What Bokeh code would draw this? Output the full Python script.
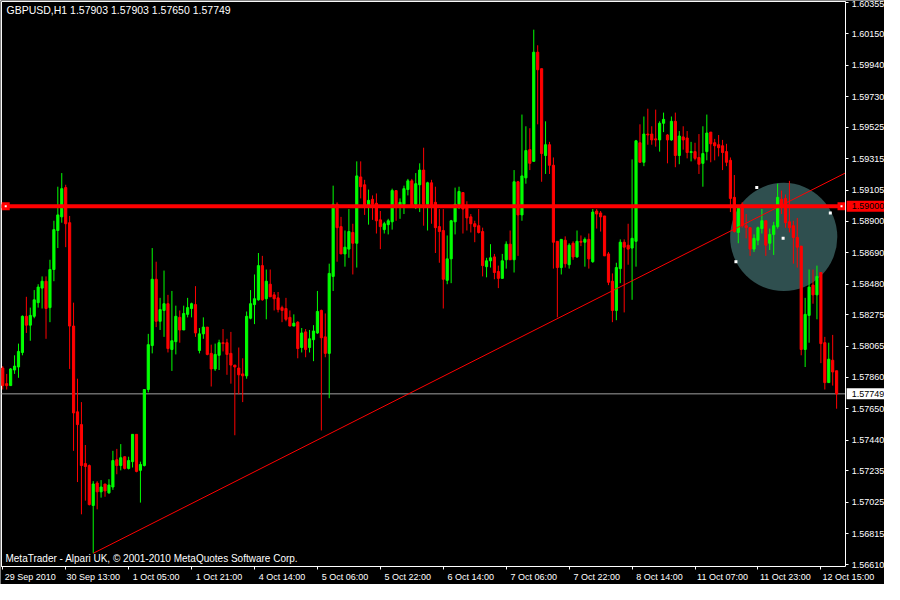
import numpy as np
from bokeh.plotting import figure
from bokeh.models import (Range1d, FixedTicker, LinearAxis, Label,
                          PrintfTickFormatter, CustomJSTickFormatter, ColumnDataSource)
from bokeh.core.properties import value
from bokeh.embed import file_html
from bokeh.resources import INLINE

symbol = "GBPUSD"
timeframe = "H1"

open_ = [
    1.57921, 1.57817, 1.57804, 1.57908, 1.57928, 1.58025, 1.58266, 1.58207, 1.58266, 1.58357,
    1.58454, 1.58500, 1.58324, 1.58578, 1.58838, 1.58929, 1.59124, 1.58890, 1.58201, 1.57629,
    1.57544, 1.57284, 1.57271, 1.57005, 1.57154, 1.57096, 1.57148, 1.57089, 1.57128, 1.57310,
    1.57271, 1.57330, 1.57252, 1.57297, 1.57479, 1.57239, 1.57271, 1.57778, 1.58071, 1.58513,
    1.58233, 1.58305, 1.58350, 1.58045, 1.58097, 1.58259, 1.58175, 1.58279, 1.58318, 1.58344,
    1.58038, 1.58149, 1.58194, 1.58019, 1.57915, 1.58006, 1.58090, 1.58090, 1.58019, 1.57941,
    1.57921, 1.57882, 1.57869, 1.58253, 1.58344, 1.58376, 1.58604, 1.58383, 1.58480, 1.58409,
    1.58389, 1.58324, 1.58318, 1.58259, 1.58201, 1.58227, 1.58058, 1.58162, 1.58058, 1.58110,
    1.58155, 1.58305, 1.58129, 1.58019, 1.58532, 1.59013, 1.58864, 1.58682, 1.58714, 1.58825,
    1.58753, 1.59195, 1.59143, 1.59007, 1.59046, 1.59020, 1.58909, 1.58844, 1.58877, 1.58896,
    1.59104, 1.59007, 1.59013, 1.59111, 1.59169, 1.59013, 1.59143, 1.59241, 1.59013, 1.59156,
    1.59026, 1.58864, 1.58838, 1.58506, 1.58649, 1.58896, 1.59013, 1.59091, 1.58994, 1.58929,
    1.58883, 1.58870, 1.58831, 1.58597, 1.58636, 1.58662, 1.58565, 1.58519, 1.58643, 1.58747,
    1.58643, 1.59163, 1.58942, 1.59189, 1.59377, 1.59299, 1.60027, 1.59917, 1.59338, 1.59410,
    1.59273, 1.58766, 1.58591, 1.58773, 1.58610, 1.58753, 1.58662, 1.58766, 1.58760, 1.58779,
    1.58630, 1.58968, 1.58955, 1.58935, 1.58682, 1.58500, 1.58305, 1.58584, 1.58760, 1.58740,
    1.58721, 1.58766, 1.59423, 1.59293, 1.59481, 1.59481, 1.59449, 1.59442, 1.59553, 1.59475,
    1.59442, 1.59566, 1.59338, 1.59462, 1.59455, 1.59358, 1.59364, 1.59325, 1.59286, 1.59364,
    1.59494, 1.59423, 1.59410, 1.59403, 1.59364, 1.59306, 1.59059, 1.58825, 1.59013, 1.58870,
    1.58857, 1.58714, 1.58773, 1.58851, 1.58903, 1.58753, 1.58812, 1.58864, 1.59046, 1.59052,
    1.58896, 1.58870, 1.58792, 1.58734, 1.58045, 1.58272, 1.58474, 1.58409, 1.58558, 1.58090,
    1.57824, 1.57973, 1.57903,
]
high = [
    1.57934, 1.57882, 1.57921, 1.58006, 1.58084, 1.58272, 1.58396, 1.58324, 1.58441, 1.58480,
    1.58532, 1.58532, 1.58643, 1.58903, 1.59130, 1.59221, 1.59143, 1.58935, 1.58357, 1.57850,
    1.57694, 1.57408, 1.57278, 1.57167, 1.57167, 1.57174, 1.57148, 1.57180, 1.57369, 1.57382,
    1.57414, 1.57330, 1.57330, 1.57479, 1.57479, 1.57297, 1.57778, 1.58149, 1.58721, 1.58630,
    1.58389, 1.58571, 1.58409, 1.58435, 1.58337, 1.58305, 1.58337, 1.58389, 1.58357, 1.58467,
    1.58188, 1.58259, 1.58194, 1.58077, 1.58084, 1.58110, 1.58181, 1.58116, 1.58162, 1.57941,
    1.58058, 1.57986, 1.58298, 1.58441, 1.58545, 1.58688, 1.58669, 1.58578, 1.58578, 1.58428,
    1.58428, 1.58337, 1.58389, 1.58305, 1.58279, 1.58233, 1.58188, 1.58181, 1.58175, 1.58207,
    1.58435, 1.58311, 1.58285, 1.58617, 1.59137, 1.59026, 1.58929, 1.58838, 1.58981, 1.58883,
    1.59299, 1.59299, 1.59176, 1.59111, 1.59072, 1.59085, 1.58968, 1.58896, 1.58916, 1.59117,
    1.59104, 1.59052, 1.59137, 1.59182, 1.59182, 1.59221, 1.59286, 1.59390, 1.59163, 1.59176,
    1.59130, 1.58981, 1.58981, 1.58805, 1.58909, 1.59124, 1.59130, 1.59091, 1.59033, 1.58948,
    1.58903, 1.58981, 1.58857, 1.58656, 1.58747, 1.58682, 1.58604, 1.58682, 1.58766, 1.58838,
    1.59241, 1.59169, 1.59611, 1.59533, 1.59520, 1.60177, 1.60073, 1.59917, 1.59566, 1.59429,
    1.59325, 1.58766, 1.58779, 1.58799, 1.58753, 1.58766, 1.58838, 1.58805, 1.58792, 1.58818,
    1.58981, 1.58981, 1.58968, 1.58935, 1.58695, 1.58552, 1.58623, 1.58779, 1.58779, 1.58883,
    1.59312, 1.59442, 1.59546, 1.59598, 1.59650, 1.59533, 1.59644, 1.59566, 1.59624, 1.59481,
    1.59598, 1.59624, 1.59501, 1.59533, 1.59501, 1.59429, 1.59423, 1.59481, 1.59533, 1.59611,
    1.59494, 1.59449, 1.59475, 1.59442, 1.59416, 1.59325, 1.59208, 1.58981, 1.59026, 1.58948,
    1.58857, 1.58812, 1.58864, 1.58981, 1.58903, 1.58851, 1.58896, 1.59150, 1.59104, 1.59078,
    1.59169, 1.58903, 1.58922, 1.58734, 1.58389, 1.58578, 1.58578, 1.58604, 1.58558, 1.58129,
    1.58090, 1.58142, 1.57903,
]
low = [
    1.57778, 1.57778, 1.57804, 1.57882, 1.57856, 1.58006, 1.58155, 1.58103, 1.58253, 1.58324,
    1.58318, 1.58116, 1.58227, 1.58500, 1.58721, 1.58890, 1.58727, 1.57915, 1.57369, 1.57161,
    1.56946, 1.57037, 1.57005, 1.56686, 1.56979, 1.57057, 1.57063, 1.57083, 1.57109, 1.57213,
    1.57239, 1.57245, 1.57245, 1.57258, 1.57226, 1.57024, 1.57265, 1.57759, 1.58019, 1.58194,
    1.58175, 1.58129, 1.58025, 1.57902, 1.58012, 1.58090, 1.58175, 1.58259, 1.58259, 1.58129,
    1.58019, 1.58116, 1.58006, 1.57798, 1.57902, 1.57908, 1.58032, 1.57876, 1.57817, 1.57473,
    1.57746, 1.57694, 1.57850, 1.58246, 1.58214, 1.58370, 1.58370, 1.58246, 1.58396, 1.58305,
    1.58292, 1.58227, 1.58233, 1.58201, 1.58201, 1.57986, 1.58025, 1.57993, 1.58025, 1.57967,
    1.58149, 1.57505, 1.57993, 1.57720, 1.58435, 1.58630, 1.58682, 1.58597, 1.58656, 1.58545,
    1.58591, 1.59052, 1.58942, 1.58877, 1.58909, 1.58818, 1.58714, 1.58818, 1.58812, 1.58844,
    1.58903, 1.58916, 1.58948, 1.59072, 1.59000, 1.58981, 1.58961, 1.58870, 1.58838, 1.58883,
    1.58688, 1.58623, 1.58318, 1.58480, 1.58487, 1.58812, 1.58981, 1.58818, 1.58838, 1.58825,
    1.58760, 1.58818, 1.58532, 1.58526, 1.58591, 1.58513, 1.58454, 1.58519, 1.58584, 1.58643,
    1.58558, 1.58669, 1.58903, 1.59150, 1.59241, 1.59299, 1.59546, 1.59163, 1.59215, 1.59215,
    1.58584, 1.58259, 1.58545, 1.58591, 1.58584, 1.58643, 1.58656, 1.58734, 1.58597, 1.58584,
    1.58623, 1.58851, 1.58831, 1.58669, 1.58474, 1.58227, 1.58240, 1.58487, 1.58292, 1.58610,
    1.58376, 1.58597, 1.59293, 1.59267, 1.59410, 1.59410, 1.59397, 1.59364, 1.59494, 1.59286,
    1.59436, 1.59260, 1.59280, 1.59377, 1.59319, 1.59299, 1.59306, 1.59215, 1.59130, 1.59306,
    1.59293, 1.59306, 1.59332, 1.59241, 1.59267, 1.58961, 1.58825, 1.58753, 1.58857, 1.58786,
    1.58669, 1.58695, 1.58740, 1.58818, 1.58669, 1.58708, 1.58675, 1.58851, 1.58948, 1.58857,
    1.58825, 1.58617, 1.58591, 1.58006, 1.57928, 1.58090, 1.58350, 1.58246, 1.57954, 1.57778,
    1.57824, 1.57804, 1.57650,
]
close = [
    1.57804, 1.57804, 1.57915, 1.57934, 1.58032, 1.58266, 1.58207, 1.58272, 1.58376, 1.58461,
    1.58500, 1.58318, 1.58578, 1.58844, 1.58942, 1.59117, 1.58883, 1.58201, 1.57622, 1.57544,
    1.57271, 1.57265, 1.57011, 1.57148, 1.57096, 1.57128, 1.57102, 1.57141, 1.57304, 1.57271,
    1.57323, 1.57252, 1.57304, 1.57479, 1.57232, 1.57278, 1.57778, 1.58077, 1.58513, 1.58233,
    1.58311, 1.58350, 1.58051, 1.58103, 1.58266, 1.58175, 1.58285, 1.58324, 1.58350, 1.58155,
    1.58149, 1.58194, 1.58012, 1.57915, 1.58012, 1.58090, 1.58084, 1.58012, 1.57941, 1.57928,
    1.57876, 1.57869, 1.58266, 1.58350, 1.58383, 1.58604, 1.58376, 1.58500, 1.58396, 1.58383,
    1.58311, 1.58305, 1.58246, 1.58201, 1.58220, 1.58051, 1.58155, 1.58045, 1.58116, 1.58168,
    1.58298, 1.58123, 1.58019, 1.58552, 1.59013, 1.58857, 1.58682, 1.58727, 1.58831, 1.58753,
    1.59202, 1.59130, 1.59007, 1.59039, 1.59013, 1.58903, 1.58864, 1.58883, 1.58903, 1.59104,
    1.59000, 1.59026, 1.59117, 1.59169, 1.59007, 1.59150, 1.59241, 1.59013, 1.59156, 1.59000,
    1.58857, 1.58831, 1.58513, 1.58649, 1.58903, 1.59013, 1.59098, 1.58981, 1.58922, 1.58883,
    1.58864, 1.58825, 1.58604, 1.58636, 1.58656, 1.58558, 1.58519, 1.58636, 1.58747, 1.58643,
    1.59163, 1.58942, 1.59202, 1.59371, 1.59286, 1.60027, 1.59910, 1.59351, 1.59410, 1.59273,
    1.58760, 1.58591, 1.58779, 1.58617, 1.58740, 1.58662, 1.58766, 1.58760, 1.58779, 1.58649,
    1.58961, 1.58948, 1.58929, 1.58669, 1.58493, 1.58305, 1.58591, 1.58760, 1.58727, 1.58714,
    1.58786, 1.59436, 1.59293, 1.59481, 1.59475, 1.59442, 1.59442, 1.59553, 1.59579, 1.59442,
    1.59566, 1.59338, 1.59468, 1.59442, 1.59358, 1.59364, 1.59319, 1.59280, 1.59351, 1.59488,
    1.59416, 1.59403, 1.59390, 1.59358, 1.59293, 1.59052, 1.58831, 1.58987, 1.58870, 1.58857,
    1.58714, 1.58786, 1.58857, 1.58903, 1.58740, 1.58812, 1.58870, 1.59059, 1.59000, 1.58890,
    1.58857, 1.58792, 1.58727, 1.58045, 1.58279, 1.58461, 1.58409, 1.58532, 1.58084, 1.57824,
    1.57980, 1.57895, 1.57749,
]
bars = list(range(len(close)))

price_ticks = [1.60355, 1.60150, 1.59940, 1.59730, 1.59525, 1.59315, 1.59105, 1.58900,
               1.58690, 1.58480, 1.58275, 1.58065, 1.57860, 1.57650, 1.57440, 1.57235,
               1.57025, 1.56815, 1.56610]
time_tick_bars = [0, 16, 32, 48, 64, 80, 96, 112, 128, 144, 160, 176, 192, 208]
time_tick_labels = ["29 Sep 2010", "30 Sep 13:00", "1 Oct 05:00", "1 Oct 21:00",
                    "4 Oct 14:00", "5 Oct 06:00", "5 Oct 22:00", "6 Oct 14:00",
                    "7 Oct 06:00", "7 Oct 22:00", "8 Oct 14:00", "11 Oct 07:00",
                    "11 Oct 23:00", "12 Oct 15:00"]

hline_price = 1.59000
trend_bars = [23, 212]
trend_prices = [1.56686, 1.59192]
ellipse_bar = 198.55
ellipse_price = 1.58795
ellipse_span_bars = 27.25
ellipse_span_price = 0.00722
ellipse_point_bars = [191.7, 210.4, 186.4, 198.4]
ellipse_point_prices = [1.59124, 1.58955, 1.58630, 1.58786]
copyright_text = "MetaTrader - Alpari UK, \u00a9 2001-2010 MetaQuotes Software Corp."

UP, DOWN = "#00FF00", "#FF0000"
FONT, FS = "Liberation Sans", "9px"
W, H = 884, 584
# whole canvas in data units (bars / price); chart window edges inside it
X0, X1 = -0.575, 224.175
Y0, Y1 = 1.56478, 1.603715
CX0, CX1 = -0.325, 214.3          # chart window left / right edge (bars)
CY0, CY1 = 1.56595, 1.60365       # chart window bottom / top edge (price)
px_per_bar = W / (X1 - X0)
px_per_price = H / (Y1 - Y0)

p = figure(width=W, height=H, output_backend="svg", toolbar_location=None,
           x_range=Range1d(X0, X1), y_range=Range1d(Y0, Y1),
           y_axis_location="right", background_fill_color="black",
           border_fill_color="black", min_border=0)
p.grid.visible = False
p.outline_line_color = None

# right price axis, fixed at the chart window edge
ya = p.yaxis[0]
ya.fixed_location = CX1
ya.bounds = (CY0, CY1)
ya.ticker = FixedTicker(ticks=price_ticks)
ya.formatter = PrintfTickFormatter(format="%.5f")
ya.axis_line_color = "white"
ya.major_tick_line_color = "white"
ya.major_tick_out = 3
ya.major_tick_in = 0
ya.minor_tick_line_color = None
ya.major_label_text_color = "white"
ya.major_label_text_font = FONT
ya.major_label_text_font_size = FS
ya.major_label_standoff = 3

# bottom time axis: tick marks
xa = p.xaxis[0]
xa.fixed_location = CY0
xa.bounds = (CX0, CX1)
xa.ticker = FixedTicker(ticks=time_tick_bars)
xa.formatter = CustomJSTickFormatter(code="return ''")
xa.axis_line_color = "white"
xa.major_tick_line_color = "white"
xa.major_tick_out = 3
xa.major_tick_in = 0
xa.minor_tick_line_color = None
xa.major_label_text_font_size = "0px"
xa.major_label_standoff = 0

# bottom time axis: labels, shifted so each label starts at its tick
shift = 27.5 / px_per_bar
p.extra_x_ranges = {"lbl": Range1d(X0 - shift, X1 - shift)}
xl = LinearAxis(x_range_name="lbl", fixed_location=CY0, ticker=FixedTicker(ticks=time_tick_bars),
                major_label_overrides={b: t for b, t in zip(time_tick_bars, time_tick_labels)},
                axis_line_color=None, major_tick_line_color=None, minor_tick_line_color=None,
                major_tick_out=0, major_tick_in=0,
                major_label_text_color="white", major_label_text_font=FONT,
                major_label_text_font_size=FS, major_label_standoff=5)
p.add_layout(xl, "below")

# chart window border (top and left)
p.line(x=[CX0, CX0, CX1], y=[CY0, CY1, CY1], line_color="white", line_width=1)

# ellipse object (background)
p.ellipse(x=[ellipse_bar], y=[ellipse_price], width=[ellipse_span_bars],
          height=[ellipse_span_price], fill_color="#2F4F4F", line_color=None)

# current price line
p.line(x=[CX0, CX1], y=[close[-1], close[-1]], line_color="#A0A0A0", line_width=1)

# candles
o = np.array(open_)
c = np.array(close)
colors = [UP if cc >= oo else DOWN for oo, cc in zip(open_, close)]
src = ColumnDataSource(dict(x=bars, h=high, l=low, top=np.maximum(o, c),
                            bottom=np.minimum(o, c), color=colors))
p.segment(x0="x", y0="l", x1="x", y1="h", line_color="color", line_width=1, source=src)
p.vbar(x="x", top="top", bottom="bottom", width=0.55, fill_color="color",
       line_color="color", line_width=1, source=src)

# trend line (ray to the right edge of the window)
slope = (trend_prices[1] - trend_prices[0]) / (trend_bars[1] - trend_bars[0])
p.line(x=[trend_bars[0], CX1],
       y=[trend_prices[0], trend_prices[0] + slope * (CX1 - trend_bars[0])],
       line_color="red", line_width=1)

# horizontal line + selection handles
p.line(x=[CX0, CX1], y=[hline_price, hline_price], line_color="red", line_width=4)
handle_x = [CX0 + 1.08, CX1 - 1.05]
p.scatter(x=handle_x, y=[hline_price] * 2, marker="square", size=8,
          fill_color="red", line_color=None)
p.scatter(x=handle_x, y=[hline_price] * 2, marker="square", size=2,
          fill_color="white", line_color=None)

# ellipse anchor points
p.scatter(x=ellipse_point_bars, y=ellipse_point_prices, marker="square", size=3,
          fill_color="white", line_color=None)

# price tags on the axis
tag_prices = [hline_price, close[-1]]
tag_fill = ["red", "white"]
tag_x = CX1 + 20.5 / px_per_bar
p.rect(x=[tag_x] * 2, y=tag_prices, width=39, height=11, width_units="screen",
       height_units="screen", fill_color=tag_fill, line_color=None)
p.text(x=[CX1] * 2, y=tag_prices, text=[f"{v:.5f}" for v in tag_prices],
       x_offset=6, text_font=value(FONT), text_font_size=value(FS),
       text_color="black", text_baseline="middle", text_align="left")

# header and footer texts
title = f"{symbol},{timeframe}  {open_[-1]:.5f} {high[-1]:.5f} {low[-1]:.5f} {close[-1]:.5f}"
p.add_layout(Label(x=CX0 + 5 / px_per_bar, y=CY1 - 9 / px_per_price, text=title,
                   text_font=FONT, text_font_size="10.5px", text_color="white",
                   text_baseline="middle"))
p.add_layout(Label(x=CX0 + 4 / px_per_bar, y=CY0 + 8 / px_per_price, text=copyright_text,
                   text_font=FONT, text_font_size="10px", text_color="white",
                   text_baseline="middle"))

open("out.html", "w").write(file_html(p, INLINE))
